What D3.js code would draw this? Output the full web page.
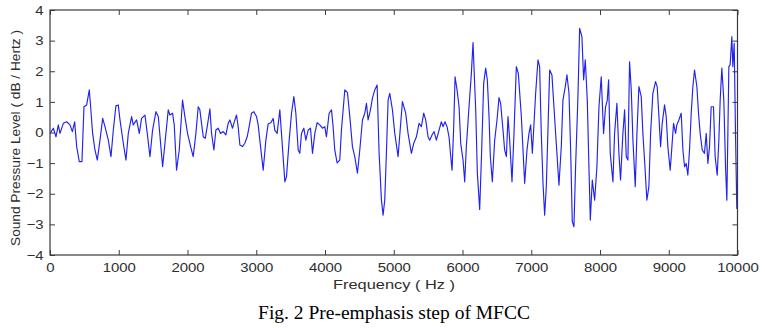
<!DOCTYPE html>
<html>
<head>
<meta charset="utf-8">
<script src="https://cdn.jsdelivr.net/npm/d3@7"></script>
<style>
  html, body { margin: 0; padding: 0; background: #fff; }
  svg { display: block; }
</style>
</head>
<body>
<div id="chart"></div>
<script>
// ---- data ----
const xTicks = [0, 1000, 2000, 3000, 4000, 5000, 6000, 7000, 8000, 9000, 10000];
const yTicks = [-4, -3, -2, -1, 0, 1, 2, 3, 4];

const freqHz = [
  0,49,87,121,145,194,242,291,325,359,388,426,465,494,533,572,591,620,654,688,727,766,800,824,848,887,921,959,993,1018,1066,1105,1139,1187,1211,1260,1299,1332,1381,1415,1454,1492,1541,1575,
  1638,1720,1744,1783,1807,1841,1880,1928,1962,2001,2045,2083,2122,2156,2180,2204,2229,2258,2287,2326,2350,2384,2413,2447,2481,2519,2558,2592,2616,2655,2689,2713,2737,2762,2800,2834,2868,2897,2931,2965,3004,3028,3052,3101,3140,3173,3212,3246,3270,3304,
  3343,3416,3440,3479,3513,3547,3576,3610,3634,3658,3692,3721,3755,3789,3818,3852,3886,3924,3963,3997,4021,4060,4094,4118,4142,4176,4215,4239,4288,4327,4361,4399,4433,4472,4506,4545,4579,4603,4627,4661,4690,4724,4758,4787,4821,4845,4869,4893,4918,4942,4981,5015,5063,
  5126,5174,5208,5257,5291,5330,5368,5402,5436,5465,5499,5523,5557,5586,5620,5659,5693,5717,5746,5775,5804,5829,5848,5872,5892,5921,5950,5974,6008,6032,6056,6095,6129,6153,6192,6216,6250,6279,6308,6337,6361,6386,6405,6434,6468,6502,6531,6555,6589,6613,6638,6662,6686,6720,6749,6783,6812,
  6856,6904,6938,6967,6991,7016,7035,7064,7098,7122,7146,7171,7195,7219,7243,7268,7301,7330,7364,7403,7437,7461,7495,7519,7549,7573,7597,7621,7645,7679,7704,7737,7762,7786,7815,7839,7859,7888,7922,7955,7985,8018,8052,8081,8106,8125,8149,8188,8212,8246,8275,8299,8333,8358,8382,8406,8430,8455,8479,8513,8537,8566,
  8600,8624,8648,8682,8711,8736,8769,8808,8832,8857,8881,8905,8939,8963,8987,9021,9046,9070,9099,9118,9147,9181,9206,9230,9254,9278,9302,9327,9351,9375,9409,9433,9457,9487,9520,9545,9569,9593,9617,9651,9675,9705,9729,9748,9772,9801,9826,9845,9860,9874,9893,9918,9932,9952,9971,9990,10000
];

const levelDb = [
  -0.03,0.14,-0.14,0.25,-0.03,0.30,0.35,0.25,0.03,0.35,-0.46,-0.95,-0.95,0.84,0.90,1.39,0.84,-0.03,-0.57,-0.90,-0.25,0.46,0.19,-0.03,-0.25,-0.79,0.08,0.87,0.90,0.41,-0.35,-0.90,-0.03,0.52,0.25,0.41,-0.03,0.46,0.57,-0.03,-0.79,0.08,0.68,0.52,
  -1.12,0.74,0.57,0.63,0.25,-1.23,-0.57,1.06,0.52,-0.03,-0.46,-0.79,-0.03,0.84,0.74,0.30,-0.14,-0.19,0.19,0.77,-0.03,-0.57,0.08,0.14,-0.03,0.03,-0.08,0.30,0.41,0.14,0.41,0.57,0.19,-0.41,-0.46,-0.35,-0.14,0.19,0.63,0.68,0.52,0.25,-0.25,-1.23,-0.25,0.28,0.32,0.46,0.08,-0.03,
  0.74,-1.61,-1.44,-0.25,0.63,1.17,0.63,-0.57,-0.68,-0.03,0.14,-0.25,0.08,0.14,-0.68,-0.03,0.32,0.25,0.14,0.19,-0.14,0.63,0.74,0.19,-0.57,-0.99,-0.90,0.08,1.39,1.30,0.52,-0.46,-0.79,-1.33,-0.57,0.41,0.63,0.95,0.41,0.74,1.12,1.39,1.55,-0.68,-2.21,-2.70,-2.21,-0.68,1.06,1.28,0.74,-0.03,-0.79,
  1.01,0.63,-0.03,-0.68,-0.35,-0.14,0.30,0.19,0.63,0.41,-0.14,-0.25,-0.08,0.03,-0.25,0.08,0.35,0.19,0.35,0.19,-0.14,-0.79,-1.23,0.19,1.82,1.39,0.84,-0.35,-0.90,-1.61,-0.46,0.84,1.93,2.94,0.74,-1.33,-2.51,-0.57,1.61,2.10,1.72,0.52,-0.79,-1.61,-0.25,0.41,1.14,0.95,0.08,-0.57,-0.79,0.52,-0.25,-1.61,-0.03,2.15,1.93,
  0.52,-1.66,-0.57,-0.03,0.25,-0.68,0.08,1.28,2.37,2.15,-0.03,-1.66,-2.70,-1.77,0.08,2.04,1.88,0.84,-0.35,-1.72,-0.46,1.06,1.50,1.88,1.28,-0.57,-2.91,-3.08,-1.12,1.17,3.40,3.13,1.72,2.37,1.06,-1.12,-2.86,-1.55,-2.21,-1.12,0.84,1.82,-0.03,0.84,1.06,1.72,-0.68,-1.61,-0.03,0.95,-0.68,-1.55,-0.03,0.74,-0.79,-0.90,2.31,1.39,-0.25,-1.77,-0.03,1.50,
  1.17,-0.03,-0.90,-2.21,-1.77,-0.03,1.28,1.66,1.50,0.52,-0.46,0.30,0.90,0.52,-0.46,-1.23,-0.46,0.30,-0.03,0.25,0.41,0.63,-0.57,-1.12,-1.01,-1.39,-0.57,0.63,1.50,2.04,1.50,0.63,-0.03,-0.57,-0.68,-0.03,-1.01,-0.46,0.84,0.84,-0.79,-1.39,-0.25,1.06,2.10,1.06,-1.12,-2.21,-0.03,2.15,2.21,3.13,2.15,2.91,-0.03,-2.48,-2.40
];

const xLabel = "Frequency ( Hz )";
const yLabel = "Sound Pressure Level ( dB / Hertz )";
const caption = "Fig. 2 Pre-emphasis step of MFCC";

// ---- drawing ----
const W = 765, H = 328;
const plot = { left: 50, right: 737.5, top: 10, bottom: 255 };
const axisColor = "#3a3a3a";
const textColor = "#2e2e2e";
const sansFont = "'Liberation Sans', Arial, sans-serif";

const svg = d3.select("#chart").append("svg")
  .attr("width", W).attr("height", H)
  .attr("viewBox", `0 0 ${W} ${H}`);

svg.append("rect").attr("width", W).attr("height", H).attr("fill", "#fff");

const x = d3.scaleLinear().domain([0, 10000]).range([plot.left, plot.right]);
const y = d3.scaleLinear().domain([-4, 4]).range([plot.bottom, plot.top]);

const data = freqHz.map((f, i) => ({ f, v: levelDb[i] })).filter(d => d.v !== undefined);

// signal line
svg.append("path")
  .datum(data)
  .attr("fill", "none")
  .attr("stroke", "#2121f2")
  .attr("stroke-width", 1.15)
  .attr("stroke-linejoin", "round")
  .attr("d", d3.line().x(d => x(d.f)).y(d => y(d.v)));

function styleAxis(g) {
  g.select(".domain").remove();
  g.selectAll(".tick line").attr("stroke", axisColor).attr("stroke-width", 1);
  g.selectAll(".tick text")
    .attr("fill", textColor)
    .style("font-family", sansFont)
    .style("font-size", "13px");
}

// bottom axis with labels
const gx = svg.append("g")
  .attr("transform", `translate(0,${plot.bottom})`)
  .call(d3.axisBottom(x).tickValues(xTicks).tickSizeInner(-5).tickSizeOuter(0).tickPadding(7.5).tickFormat(d3.format("d")));
styleAxis(gx);
gx.selectAll(".tick text").attr("transform", "scale(1.15,1)");

// top axis (ticks only)
const gxt = svg.append("g")
  .attr("transform", `translate(0,${plot.top})`)
  .call(d3.axisTop(x).tickValues(xTicks).tickSizeInner(-5).tickSizeOuter(0).tickFormat(""));
styleAxis(gxt);

// left axis with labels
const gy = svg.append("g")
  .attr("transform", `translate(${plot.left},0)`)
  .call(d3.axisLeft(y).tickValues(yTicks).tickSizeInner(-5).tickSizeOuter(0).tickPadding(6).tickFormat(d3.format("d")));
styleAxis(gy);
gy.selectAll(".tick text").attr("transform", "scale(1.15,1)").attr("x", -5.5);

// right axis (ticks only)
const gyr = svg.append("g")
  .attr("transform", `translate(${plot.right},0)`)
  .call(d3.axisRight(y).tickValues(yTicks).tickSizeInner(-5).tickSizeOuter(0).tickFormat(""));
styleAxis(gyr);

// frame
svg.append("rect")
  .attr("x", plot.left).attr("y", plot.top)
  .attr("width", plot.right - plot.left).attr("height", plot.bottom - plot.top)
  .attr("fill", "none").attr("stroke", axisColor).attr("stroke-width", 1.2);

// axis titles
svg.append("text")
  .attr("x", 394).attr("y", 289)
  .attr("text-anchor", "middle")
  .attr("textLength", 122).attr("lengthAdjust", "spacingAndGlyphs")
  .attr("fill", textColor)
  .style("font-family", sansFont).style("font-size", "13px")
  .text(xLabel);

svg.append("text")
  .attr("transform", "translate(19.5,138) rotate(-90)")
  .attr("text-anchor", "middle")
  .attr("textLength", 216).attr("lengthAdjust", "spacingAndGlyphs")
  .attr("fill", textColor)
  .style("font-family", sansFont).style("font-size", "13.5px")
  .text(yLabel);

// caption
svg.append("text")
  .attr("x", 394).attr("y", 318.5)
  .attr("text-anchor", "middle")
  .attr("fill", "#000")
  .style("font-family", "'Liberation Serif', 'Times New Roman', serif")
  .style("font-size", "19.5px")
  .text(caption);
</script>
</body>
</html>
